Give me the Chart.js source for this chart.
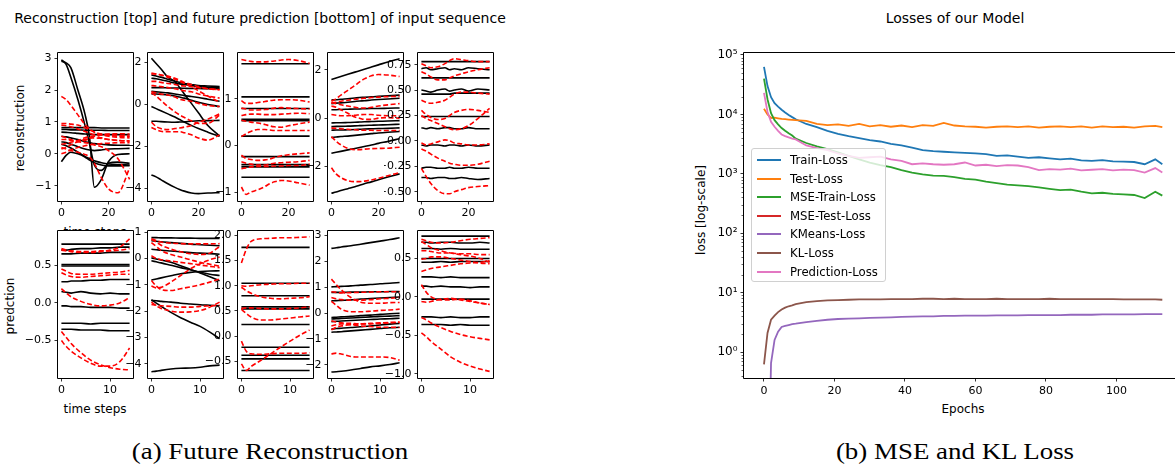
<!DOCTYPE html>
<html>
<head>
<meta charset="utf-8">
<script src="https://cdn.jsdelivr.net/npm/chart.js@4.4.1/dist/chart.umd.min.js"></script>
<style>
  body { margin: 0; background: #fff; width: 1175px; height: 466px; position: relative; overflow: hidden;
         font-family: 'DejaVu Sans', sans-serif; color: #000; }
  .txt { position: absolute; white-space: nowrap; transform: translate(-50%, -50%); }
  .rot { transform: translate(-50%, -50%) rotate(-90deg); }
  .cap { font-family: 'Liberation Serif', serif; font-size: 23px; transform: translate(-50%, -50%) scaleX(1.17); }
  canvas { position: absolute; }
  #legend { position: absolute; left: 751px; top: 148px; width: 135px; height: 134px; z-index: 5;
            background: rgba(255,255,255,0.8); border: 1px solid #d0d0d0; border-radius: 3px; box-sizing: border-box; }
  .row { position: absolute; left: 0; height: 16px; font-size: 11.7px; line-height: 16px; }
  .row span.l { position: absolute; left: 5px; top: 7px; width: 24px; height: 2px; }
  .row span.t { position: absolute; left: 38px; top: 0; white-space: nowrap; }
</style>
</head>
<body>

<div class="txt" style="left:260px;top:18px;font-size:14px">Reconstruction [top] and future prediction [bottom] of input sequence</div>
<div class="txt" style="left:955px;top:18px;font-size:14px">Losses of our Model</div>
<div class="txt rot" style="left:20px;top:128px;font-size:12px">reconstruction</div>
<div class="txt rot" style="left:10px;top:306px;font-size:12px">predction</div>
<div class="txt" style="left:95px;top:232px;font-size:12px">time steps</div>
<div class="txt" style="left:95px;top:409px;font-size:12px">time steps</div>
<div class="txt rot" style="left:701px;top:210px;font-size:12px">loss [log-scale]</div>
<div class="txt" style="left:963px;top:409px;font-size:12px">Epochs</div>
<div class="txt cap" style="left:270px;top:452px">(a) Future Reconstruction</div>
<div class="txt cap" style="left:955px;top:452px">(b) MSE and KL Loss</div>
<div id="legend"></div>

<script>
// ---- small panels: time steps ----
var T_RECON = [0, 2, 4, 7, 10, 12, 14, 17, 20, 24, 29];
var T_PRED = [0, 1, 2, 4, 6, 8, 10, 12, 14];

// top row: reconstruction (black = input, red dashed = model)
var recon1Black = [
  [0.82,0.82,0.82,0.82,0.82,0.82,0.82,0.81,0.81,0.81,0.81],
  [0.76,0.76,0.75,0.75,0.74,0.74,0.74,0.74,0.73,0.73,0.73],
  [0.68,0.67,0.66,0.64,0.62,0.61,0.60,0.60,0.60,0.60,0.60],
  [0.55,0.53,0.50,0.45,0.38,0.35,0.32,0.30,0.28,0.27,0.27],
  [0.38,0.35,0.30,0.22,0.15,0.12,0.10,0.12,0.15,0.16,0.17],
  [0.30,0.25,0.18,0.05,-0.08,-0.15,-0.22,-0.28,-0.32,-0.34,-0.35],
  [-0.25,-0.05,0.05,0.00,-0.10,-0.20,-0.28,-0.35,-0.38,-0.38,-0.37],
  [2.95,2.80,2.40,1.70,0.90,0.30,-0.35,-0.52,-0.30,-0.26,-0.30],
  [2.90,2.85,2.70,2.00,1.25,0.50,-1.05,-0.80,-0.25,-0.02,0.00]
];
var recon1Red = [
  [1.80,1.70,1.52,1.22,0.92,0.78,0.68,0.60,0.55,0.52,0.50],
  [0.95,0.95,0.93,0.90,0.82,0.75,0.68,0.62,0.58,0.55,0.55],
  [0.90,0.88,0.85,0.78,0.70,0.65,0.60,0.60,0.62,0.63,0.62],
  [0.55,0.50,0.45,0.40,0.42,0.48,0.55,0.60,0.60,0.58,0.55],
  [0.30,0.32,0.36,0.42,0.50,0.55,0.55,0.50,0.45,0.42,0.40],
  [0.15,0.20,0.28,0.38,0.45,0.50,0.50,0.48,0.45,0.42,0.40],
  [0.00,0.05,0.12,0.20,0.25,0.28,0.30,0.32,0.33,0.35,0.35],
  [0.20,0.15,0.10,0.05,-0.02,-0.10,-0.30,-0.75,-1.10,-1.22,-0.45],
  [0.45,0.45,0.42,0.38,0.35,0.32,0.28,0.22,0.10,-0.15,-0.80]
];
var recon2Black = [
  [2.20,1.95,1.70,1.30,1.10,0.80,0.50,0.05,-0.40,-1.00,-1.50],
  [-0.10,-0.20,-0.30,-0.45,-0.60,-0.72,-0.84,-1.00,-1.15,-1.32,-1.52],
  [-0.80,-0.80,-0.82,-0.84,-0.85,-0.84,-0.83,-0.80,-0.78,-0.77,-0.76],
  [1.40,1.35,1.30,1.20,1.10,1.05,1.00,0.95,0.90,0.88,0.85],
  [1.25,1.22,1.18,1.10,1.02,0.98,0.95,0.90,0.85,0.82,0.80],
  [0.80,0.80,0.80,0.79,0.78,0.78,0.77,0.76,0.76,0.75,0.75],
  [0.62,0.60,0.58,0.55,0.50,0.46,0.42,0.38,0.33,0.25,0.15],
  [0.50,0.50,0.48,0.45,0.40,0.35,0.30,0.20,0.10,0.00,-0.10],
  [-3.36,-3.45,-3.58,-3.78,-3.95,-4.05,-4.13,-4.22,-4.25,-4.22,-4.20]
];
var recon2Red = [
  [1.50,1.45,1.40,1.30,1.20,1.10,1.00,0.85,0.65,0.40,0.10],
  [1.45,1.45,1.40,1.35,1.25,1.15,1.05,0.95,0.85,0.75,0.70],
  [1.10,1.10,1.05,1.00,0.95,0.90,0.88,0.85,0.80,0.75,0.70],
  [0.90,0.88,0.85,0.80,0.75,0.70,0.65,0.60,0.50,0.40,0.30],
  [0.55,0.40,0.20,-0.10,-0.35,-0.50,-0.62,-0.78,-0.90,-0.90,-0.50],
  [-0.85,-1.05,-1.15,-1.20,-1.15,-1.12,-1.08,-1.00,-0.85,-0.70,-0.45],
  [-1.10,-1.20,-1.28,-1.30,-1.30,-1.30,-1.35,-1.45,-1.60,-1.70,-1.45],
  [0.60,0.55,0.50,0.45,0.35,0.25,0.20,0.15,0.05,-0.05,-0.10]
];
var recon3Black = [
  [1.75,1.75,1.75,1.75,1.75,1.75,1.75,1.75,1.75,1.75,1.75],
  [1.04,1.04,1.04,1.04,1.04,1.04,1.04,1.04,1.04,1.04,1.04],
  [0.79,0.79,0.79,0.79,0.79,0.79,0.79,0.79,0.79,0.79,0.79],
  [0.56,0.56,0.56,0.56,0.56,0.56,0.56,0.56,0.56,0.56,0.56],
  [0.53,0.53,0.53,0.53,0.53,0.53,0.53,0.53,0.53,0.53,0.53],
  [0.20,0.20,0.20,0.20,0.20,0.20,0.20,0.20,0.20,0.20,0.20],
  [-0.24,-0.24,-0.24,-0.24,-0.24,-0.24,-0.24,-0.24,-0.24,-0.24,-0.24],
  [-0.41,-0.41,-0.41,-0.41,-0.41,-0.41,-0.41,-0.41,-0.41,-0.41,-0.41],
  [-0.46,-0.46,-0.46,-0.46,-0.46,-0.46,-0.46,-0.46,-0.46,-0.46,-0.46],
  [-0.68,-0.68,-0.68,-0.68,-0.68,-0.68,-0.68,-0.68,-0.68,-0.68,-0.68]
];
var recon3Red = [
  [1.84,1.82,1.80,1.79,1.79,1.80,1.81,1.83,1.84,1.82,1.76],
  [0.96,0.90,0.90,0.92,0.94,0.96,0.97,0.98,0.98,0.97,0.93],
  [0.80,0.78,0.76,0.76,0.77,0.78,0.80,0.81,0.80,0.79,0.78],
  [0.64,0.66,0.67,0.67,0.66,0.66,0.66,0.67,0.68,0.69,0.68],
  [0.54,0.52,0.50,0.48,0.45,0.42,0.40,0.39,0.42,0.46,0.50],
  [0.19,0.25,0.30,0.34,0.34,0.33,0.32,0.32,0.32,0.32,0.32],
  [-0.21,-0.28,-0.30,-0.32,-0.31,-0.29,-0.26,-0.22,-0.20,-0.18,-0.16],
  [-0.35,-0.38,-0.40,-0.42,-0.42,-0.40,-0.38,-0.37,-0.36,-0.35,-0.32],
  [-0.50,-0.48,-0.46,-0.45,-0.45,-0.45,-0.44,-0.44,-0.43,-0.43,-0.40],
  [-0.89,-1.05,-1.00,-0.95,-0.88,-0.82,-0.78,-0.75,-0.76,-0.80,-0.85]
];
var recon4Black = [
  [1.60,1.66,1.72,1.81,1.90,1.96,2.02,2.11,2.20,2.32,2.45],
  [0.75,0.76,0.78,0.80,0.83,0.85,0.86,0.88,0.90,0.92,0.95],
  [0.60,0.62,0.63,0.66,0.69,0.71,0.72,0.75,0.77,0.79,0.82],
  [0.35,0.35,0.36,0.37,0.38,0.38,0.39,0.40,0.40,0.41,0.42],
  [-0.20,-0.19,-0.19,-0.18,-0.17,-0.16,-0.15,-0.14,-0.13,-0.12,-0.10],
  [-0.35,-0.34,-0.34,-0.33,-0.32,-0.31,-0.30,-0.29,-0.28,-0.27,-0.25],
  [-0.50,-0.49,-0.49,-0.48,-0.47,-0.46,-0.45,-0.44,-0.43,-0.42,-0.40],
  [-0.80,-0.78,-0.76,-0.74,-0.71,-0.69,-0.67,-0.64,-0.61,-0.58,-0.55],
  [-1.45,-1.41,-1.37,-1.31,-1.25,-1.21,-1.17,-1.11,-1.04,-0.96,-0.85],
  [-3.10,-3.05,-2.99,-2.91,-2.83,-2.77,-2.71,-2.63,-2.54,-2.43,-2.30]
];
var recon4Red = [
  [0.70,0.80,0.95,1.15,1.35,1.50,1.62,1.75,1.80,1.78,1.72],
  [0.62,0.66,0.70,0.74,0.78,0.80,0.82,0.85,0.87,0.89,0.90],
  [0.50,0.45,0.35,0.20,0.05,0.00,-0.05,-0.05,0.00,0.02,0.00],
  [0.65,0.60,0.55,0.50,0.45,0.42,0.42,0.45,0.50,0.55,0.60],
  [0.15,0.12,0.10,0.10,0.12,0.14,0.15,0.15,0.12,0.10,0.10],
  [-0.41,-0.42,-0.44,-0.46,-0.48,-0.49,-0.50,-0.50,-0.51,-0.51,-0.51],
  [-0.76,-0.95,-1.10,-1.25,-1.30,-1.30,-1.28,-1.26,-1.25,-1.24,-1.20],
  [-2.05,-2.30,-2.45,-2.58,-2.62,-2.62,-2.60,-2.55,-2.48,-2.38,-2.25]
];
var recon5Black = [
  [0.78,0.78,0.78,0.78,0.78,0.78,0.78,0.78,0.78,0.78,0.78],
  [0.71,0.72,0.70,0.71,0.72,0.70,0.71,0.70,0.72,0.71,0.70],
  [0.62,0.62,0.62,0.62,0.62,0.62,0.62,0.62,0.62,0.62,0.62],
  [0.50,0.49,0.48,0.50,0.51,0.49,0.50,0.51,0.49,0.51,0.50],
  [0.46,0.46,0.46,0.46,0.46,0.46,0.47,0.47,0.47,0.47,0.47],
  [0.24,0.24,0.24,0.24,0.24,0.24,0.24,0.24,0.24,0.24,0.24],
  [0.13,0.12,0.13,0.12,0.13,0.13,0.12,0.12,0.13,0.12,0.12],
  [-0.04,-0.05,-0.04,-0.04,-0.05,-0.04,-0.04,-0.05,-0.04,-0.05,-0.04],
  [-0.27,-0.26,-0.26,-0.27,-0.27,-0.26,-0.27,-0.27,-0.26,-0.27,-0.27],
  [-0.36,-0.36,-0.37,-0.36,-0.36,-0.37,-0.37,-0.36,-0.37,-0.38,-0.37]
];
var recon5Red = [
  [0.76,0.74,0.72,0.73,0.76,0.79,0.81,0.80,0.79,0.78,0.78],
  [0.68,0.66,0.63,0.60,0.60,0.62,0.64,0.66,0.68,0.70,0.72],
  [0.40,0.38,0.37,0.38,0.40,0.43,0.46,0.48,0.48,0.47,0.46],
  [0.30,0.26,0.23,0.21,0.22,0.25,0.28,0.30,0.31,0.30,0.28],
  [0.25,0.22,0.20,0.17,0.14,0.12,0.11,0.12,0.15,0.22,0.32],
  [-0.02,-0.04,-0.03,-0.01,0.01,0.00,-0.02,-0.03,-0.04,-0.04,-0.03],
  [-0.08,-0.10,-0.13,-0.17,-0.20,-0.22,-0.23,-0.24,-0.24,-0.23,-0.20],
  [-0.27,-0.35,-0.42,-0.49,-0.52,-0.52,-0.50,-0.48,-0.46,-0.45,-0.44]
];

// bottom row: future prediction
var pred1Black = [
  [0.78,0.78,0.78,0.78,0.78,0.78,0.78,0.78,0.78],
  [0.70,0.70,0.71,0.72,0.72,0.73,0.73,0.74,0.74],
  [0.65,0.65,0.65,0.66,0.66,0.66,0.67,0.67,0.67],
  [0.51,0.51,0.51,0.51,0.51,0.51,0.51,0.51,0.51],
  [0.49,0.49,0.49,0.49,0.49,0.49,0.49,0.49,0.49],
  [0.28,0.28,0.29,0.29,0.30,0.30,0.31,0.31,0.31],
  [0.15,0.14,0.13,0.15,0.13,0.12,0.13,0.12,0.12],
  [-0.04,-0.04,-0.05,-0.05,-0.06,-0.06,-0.06,-0.07,-0.07],
  [-0.27,-0.27,-0.27,-0.27,-0.28,-0.27,-0.27,-0.27,-0.27],
  [-0.35,-0.35,-0.35,-0.36,-0.36,-0.36,-0.37,-0.37,-0.37]
];
var pred1Red = [
  [0.72,0.70,0.68,0.67,0.67,0.68,0.70,0.74,0.85],
  [0.70,0.69,0.69,0.68,0.68,0.69,0.69,0.70,0.72],
  [0.45,0.42,0.39,0.38,0.38,0.39,0.40,0.41,0.43],
  [0.40,0.37,0.35,0.34,0.35,0.36,0.37,0.38,0.38],
  [0.19,0.13,0.08,0.02,-0.02,-0.04,-0.03,0.00,0.07],
  [-0.38,-0.46,-0.54,-0.66,-0.76,-0.82,-0.86,-0.88,-0.89],
  [-0.50,-0.58,-0.64,-0.73,-0.80,-0.84,-0.84,-0.78,-0.60]
];
var pred2Black = [
  [0.79,0.79,0.78,0.78,0.77,0.77,0.76,0.76,0.76],
  [0.67,0.65,0.63,0.60,0.57,0.54,0.52,0.50,0.48],
  [0.35,0.33,0.31,0.28,0.25,0.22,0.20,0.18,0.16],
  [0.02,-0.02,-0.06,-0.15,-0.28,-0.42,-0.55,-0.70,-0.85],
  [-0.09,-0.13,-0.17,-0.26,-0.35,-0.43,-0.52,-0.60,-0.65],
  [-0.82,-0.78,-0.74,-0.66,-0.58,-0.53,-0.50,-0.48,-0.47],
  [-1.60,-1.61,-1.63,-1.66,-1.70,-1.73,-1.76,-1.78,-1.80],
  [-1.57,-1.70,-1.82,-2.05,-2.25,-2.42,-2.58,-2.80,-3.05],
  [-4.30,-4.28,-4.25,-4.20,-4.17,-4.16,-4.13,-4.08,-4.05]
];
var pred2Red = [
  [0.75,0.68,0.62,0.58,0.56,0.55,0.55,0.55,0.56],
  [0.72,0.62,0.50,0.35,0.25,0.18,0.15,0.20,0.45],
  [0.60,0.45,0.30,0.15,0.05,-0.05,-0.15,-0.22,-0.30],
  [0.10,0.00,-0.05,-0.10,-0.15,-0.20,-0.25,-0.30,-0.35],
  [-0.84,-1.05,-1.18,-1.22,-1.15,-1.08,-1.00,-0.90,-0.78],
  [-1.05,-1.12,-1.10,-0.90,-0.65,-0.40,-0.20,-0.05,0.05],
  [-1.66,-1.80,-1.90,-2.00,-2.04,-2.03,-1.98,-1.85,-1.66],
  [-1.75,-1.78,-1.80,-1.82,-1.85,-1.85,-1.82,-1.80,-1.78]
];
var pred3Black = [
  [1.76,1.76,1.76,1.76,1.76,1.76,1.76,1.76,1.76],
  [1.05,1.05,1.05,1.05,1.05,1.05,1.05,1.05,1.05],
  [0.80,0.80,0.80,0.80,0.80,0.80,0.80,0.80,0.80],
  [0.58,0.58,0.58,0.58,0.58,0.58,0.58,0.58,0.58],
  [0.54,0.54,0.54,0.54,0.54,0.54,0.54,0.54,0.54],
  [0.23,0.23,0.23,0.23,0.23,0.23,0.23,0.23,0.23],
  [-0.22,-0.22,-0.22,-0.22,-0.22,-0.22,-0.22,-0.22,-0.22],
  [-0.38,-0.38,-0.38,-0.38,-0.38,-0.38,-0.38,-0.38,-0.38],
  [-0.45,-0.45,-0.45,-0.45,-0.45,-0.45,-0.45,-0.45,-0.45],
  [-0.68,-0.68,-0.68,-0.68,-0.68,-0.68,-0.68,-0.68,-0.68]
];
var pred3Red = [
  [1.45,1.72,1.88,1.93,1.94,1.95,1.95,1.96,1.97],
  [1.00,0.99,1.00,1.02,1.03,1.04,1.04,1.05,1.05],
  [0.97,0.90,0.85,0.78,0.75,0.74,0.75,0.76,0.78],
  [0.55,0.56,0.56,0.55,0.54,0.54,0.55,0.56,0.58],
  [0.53,0.45,0.38,0.32,0.32,0.34,0.36,0.38,0.40],
  [-0.10,-0.30,-0.35,-0.36,-0.35,-0.34,-0.34,-0.34,-0.33],
  [-0.55,-0.68,-0.60,-0.48,-0.35,-0.22,-0.10,0.02,0.12]
];
var pred4Black = [
  [2.50,2.52,2.55,2.60,2.66,2.72,2.78,2.84,2.91],
  [1.01,1.02,1.03,1.05,1.08,1.10,1.13,1.15,1.18],
  [0.80,0.80,0.80,0.81,0.81,0.82,0.82,0.83,0.83],
  [0.47,0.48,0.49,0.51,0.54,0.56,0.58,0.60,0.62],
  [-0.17,-0.16,-0.15,-0.13,-0.10,-0.08,-0.05,-0.03,-0.01],
  [-0.23,-0.22,-0.21,-0.19,-0.17,-0.15,-0.13,-0.12,-0.10],
  [-0.33,-0.32,-0.31,-0.29,-0.27,-0.25,-0.23,-0.22,-0.20],
  [-0.62,-0.60,-0.59,-0.56,-0.53,-0.50,-0.46,-0.43,-0.40],
  [-0.74,-0.73,-0.72,-0.69,-0.66,-0.63,-0.60,-0.57,-0.55],
  [-2.28,-2.27,-2.25,-2.20,-2.14,-2.08,-2.04,-1.99,-1.92]
];
var pred4Red = [
  [1.31,1.10,0.90,0.60,0.42,0.38,0.38,0.40,0.41],
  [0.82,0.80,0.78,0.79,0.80,0.81,0.82,0.82,0.82],
  [0.60,0.55,0.52,0.50,0.50,0.52,0.55,0.57,0.60],
  [0.45,0.30,0.15,0.05,0.05,0.07,0.10,0.12,0.15],
  [-0.30,-0.35,-0.38,-0.40,-0.42,-0.42,-0.40,-0.38,-0.36],
  [-0.50,-0.45,-0.42,-0.45,-0.50,-0.52,-0.55,-0.55,-0.56],
  [-0.65,-0.55,-0.50,-0.45,-0.42,-0.40,-0.38,-0.36,-0.35],
  [-1.58,-1.55,-1.58,-1.68,-1.70,-1.70,-1.70,-1.72,-1.82]
];
var pred5Black = [
  [0.79,0.79,0.79,0.79,0.79,0.79,0.79,0.79,0.79],
  [0.71,0.71,0.70,0.71,0.71,0.70,0.70,0.71,0.70],
  [0.63,0.63,0.63,0.62,0.63,0.62,0.62,0.62,0.62],
  [0.50,0.50,0.50,0.50,0.50,0.50,0.50,0.50,0.50],
  [0.45,0.45,0.45,0.46,0.45,0.46,0.46,0.46,0.46],
  [0.26,0.26,0.26,0.25,0.26,0.25,0.25,0.25,0.25],
  [0.14,0.14,0.13,0.14,0.13,0.13,0.12,0.13,0.13],
  [-0.03,-0.03,-0.03,-0.03,-0.03,-0.03,-0.03,-0.03,-0.03],
  [-0.26,-0.26,-0.26,-0.27,-0.26,-0.27,-0.27,-0.26,-0.26],
  [-0.36,-0.36,-0.36,-0.36,-0.37,-0.36,-0.37,-0.37,-0.37]
];
var pred5Red = [
  [0.75,0.73,0.71,0.70,0.71,0.73,0.75,0.76,0.77],
  [0.72,0.68,0.64,0.60,0.57,0.55,0.53,0.50,0.45],
  [0.60,0.60,0.59,0.57,0.57,0.56,0.56,0.55,0.55],
  [0.49,0.50,0.52,0.52,0.50,0.48,0.46,0.44,0.43],
  [0.33,0.35,0.37,0.39,0.41,0.43,0.44,0.45,0.47],
  [0.16,0.06,0.00,-0.04,-0.04,-0.03,-0.05,-0.08,-0.10],
  [-0.06,-0.07,-0.06,-0.03,-0.02,-0.04,-0.06,-0.08,-0.10],
  [-0.27,-0.30,-0.34,-0.40,-0.45,-0.49,-0.52,-0.54,-0.56],
  [-0.47,-0.52,-0.58,-0.68,-0.78,-0.85,-0.90,-0.94,-0.97]
];

// ---- losses ----
var EPOCHS = [0,1,2,3,4,5,6,7,8,9,12,15,18,21,24,27,30,33,36,39,42,45,48,51,54,57,60,63,66,69,72,75,78,81,84,87,90,93,96,99,102,105,108,111,113];
var trainLoss = [63000,30000,19500,15500,13500,12000,10800,9800,9000,8300,6900,6100,5300,4700,4300,4000,3700,3500,3200,3000,2750,2500,2400,2350,2300,2250,2200,2150,2000,2050,1950,1850,1900,1820,1750,1800,1680,1650,1700,1620,1600,1580,1450,1750,1450];
var testLoss = [12400,10000,8700,8800,8600,8400,8300,8200,8100,8000,7800,6900,6600,6800,6400,6900,6300,6600,6200,6500,6100,6600,6400,7200,6500,6300,6200,6000,6200,6300,6100,6300,6000,6200,6300,6100,6300,6000,6300,6100,6200,6000,6300,6400,6100];
var mseTrainLoss = [40000,18000,10500,8000,6800,5900,5300,4800,4400,3900,3300,2900,2600,2300,2000,1750,1550,1400,1300,1150,1050,980,930,920,880,820,800,740,700,660,640,620,590,560,530,540,500,470,480,460,450,440,390,500,430];
var mseTestLoss = [];
var kmeansLoss = [0.001,0.001,0.65,1.6,2.2,2.65,2.75,2.85,2.95,3.0,3.2,3.35,3.5,3.6,3.65,3.7,3.75,3.8,3.85,3.9,3.95,4.0,4.0,4.05,4.05,4.1,4.1,4.1,4.15,4.15,4.15,4.2,4.2,4.2,4.2,4.25,4.25,4.25,4.3,4.3,4.3,4.3,4.35,4.35,4.35];
var klLoss = [0.62,2.1,3.5,4.1,4.7,5.2,5.6,5.9,6.1,6.4,6.9,7.2,7.4,7.5,7.6,7.7,7.7,7.7,7.8,7.8,7.8,7.9,7.9,7.8,7.9,7.8,7.8,7.8,7.9,7.8,7.8,7.8,7.8,7.9,7.8,7.8,7.8,7.8,7.8,7.8,7.7,7.7,7.7,7.7,7.6];
var predictionLoss = [23000,11000,7500,6200,5300,4600,4300,4100,3900,3800,3000,2700,2500,2200,2000,1850,1900,1950,1750,1650,1450,1500,1450,1420,1450,1550,1380,1420,1350,1400,1380,1300,1150,1200,1180,1220,1140,1170,1200,1140,1180,1150,1050,1250,1050];
var LOSS_LABELS = ['Train-Loss','Test-Loss','MSE-Train-Loss','MSE-Test-Loss','KMeans-Loss','KL-Loss','Prediction-Loss'];
var LOSS_COLORS = ['#1f77b4','#ff7f0e','#2ca02c','#d62728','#9467bd','#8c564b','#e377c2'];

var TICK_FONT = {family: 'DejaVu Sans', size: 11};

function fmt(v, dec) {
    return (v < 0 ? '\u2212' : '') + Math.abs(v).toFixed(dec);
}

// white axes background + spines
var framePlugin = {
    id: 'frame',
    beforeDraw: function(chart) {
        var a = chart.chartArea, ctx = chart.ctx;
        ctx.save();
        ctx.fillStyle = '#fff';
        ctx.fillRect(a.left, a.top, a.right - a.left, a.bottom - a.top);
        ctx.restore();
    },
    afterDraw: function(chart, args, opts) {
        var a = chart.chartArea, ctx = chart.ctx;
        var l = a.left - 0.5, t = a.top - 0.5, b = a.bottom + 0.5;
        var r = opts.open ? a.right + 2 : a.right + 0.5;
        ctx.save();
        ctx.strokeStyle = '#000';
        ctx.lineWidth = 1;
        ctx.beginPath();
        ctx.moveTo(r, t); ctx.lineTo(l, t); ctx.lineTo(l, b); ctx.lineTo(r, b);
        if (!opts.open) ctx.lineTo(r, t);
        ctx.stroke();
        ctx.restore();
    }
};

function makeCanvas(left, top, w, h) {
    var c = document.createElement('canvas');
    c.width = w; c.height = h;
    c.style.left = left + 'px'; c.style.top = top + 'px';
    c.style.width = w + 'px'; c.style.height = h + 'px';
    document.body.appendChild(c);
    return c;
}

function panel(px, py, pw, ph, times, black, red, xr, xTicks, yr, yTicks, dec) {
    var padL = 34, padT = 14, padR = 6, padB = 22;
    var c = makeCanvas(px - padL, py - padT, pw + padL + padR, ph + padT + padB);
    var ds = [];
    black.forEach(function(s) {
        ds.push({data: times.map(function(t, i) { return {x: t, y: s[i]}; }),
                 borderColor: '#000', borderWidth: 1.6, borderDash: []});
    });
    red.forEach(function(s) {
        ds.push({data: times.map(function(t, i) { return {x: t, y: s[i]}; }),
                 borderColor: '#ff0000', borderWidth: 1.6, borderDash: [5, 2.5]});
    });
    ds.forEach(function(d, i) { d.order = ds.length - i; d.cubicInterpolationMode = 'monotone'; });

    new Chart(c, {
        type: 'line',
        data: {datasets: ds},
        plugins: [framePlugin],
        options: {
            responsive: false,
            animation: false,
            layout: {padding: {top: padT, right: padR, left: 0, bottom: 0}},
            elements: {point: {radius: 0}},
            plugins: {legend: {display: false}, tooltip: {enabled: false}, frame: {open: false}},
            scales: {
                x: {
                    type: 'linear', min: xr[0], max: xr[1],
                    afterFit: function(s) { s.height = padB; },
                    afterBuildTicks: function(s) { s.ticks = xTicks.map(function(v) { return {value: v}; }); },
                    grid: {drawOnChartArea: false, tickLength: 3.5, color: '#000', lineWidth: 0.8},
                    border: {display: false},
                    ticks: {font: TICK_FONT, color: '#000', padding: 2, maxRotation: 0, autoSkip: false,
                            callback: function(v) { return fmt(v, 0); }}
                },
                y: {
                    type: 'linear', min: yr[0], max: yr[1],
                    afterFit: function(s) { s.width = padL; },
                    afterBuildTicks: function(s) { s.ticks = yTicks.map(function(v) { return {value: v}; }); },
                    grid: {drawOnChartArea: false, tickLength: 3.5, color: '#000', lineWidth: 0.8},
                    border: {display: false},
                    ticks: {font: TICK_FONT, color: '#000', padding: 3, autoSkip: false,
                            callback: function(v) { return fmt(v, dec); }}
                }
            }
        }
    });
}

var XR_RECON = [-1.45, 30.45], XR_PRED = [-0.7, 14.7];
var topY = 53, topH = 148, botY = 231, botH = 147, colW = 75;
function colX(i) { return 58 + 90 * i; }

panel(colX(0), topY, colW, topH, T_RECON, recon1Black, recon1Red, XR_RECON, [0, 20], [-1.48, 3.16], [-1, 0, 1, 2, 3], 0);
panel(colX(1), topY, colW, topH, T_RECON, recon2Black, recon2Red, XR_RECON, [0, 20], [-4.6, 2.45], [-4, -2, 0, 2], 0);
panel(colX(2), topY, colW, topH, T_RECON, recon3Black, recon3Red, XR_RECON, [0, 20], [-1.19, 1.98], [-1, 0, 1], 0);
panel(colX(3), topY, colW, topH, T_RECON, recon4Black, recon4Red, XR_RECON, [0, 20], [-3.42, 2.69], [-2, 0, 2], 0);
panel(colX(4), topY, colW, topH, T_RECON, recon5Black, recon5Red, XR_RECON, [0, 20], [-0.592, 0.865], [-0.5, -0.25, 0, 0.25, 0.5, 0.75], 2);

panel(colX(0), botY, colW, botH, T_PRED, pred1Black, pred1Red, XR_PRED, [0, 10], [-0.997, 0.954], [-0.5, 0, 0.5], 1);
panel(colX(1), botY, colW, botH, T_PRED, pred2Black, pred2Red, XR_PRED, [0, 10], [-4.54, 1.04], [-4, -3, -2, -1, 0, 1], 0);
panel(colX(2), botY, colW, botH, T_PRED, pred3Black, pred3Red, XR_PRED, [0, 10], [-0.83, 2.085], [-0.5, 0, 0.5, 1, 1.5, 2], 1);
panel(colX(3), botY, colW, botH, T_PRED, pred4Black, pred4Red, XR_PRED, [0, 10], [-2.51, 3.17], [-2, -1, 0, 1, 2, 3], 0);
panel(colX(4), botY, colW, botH, T_PRED, pred5Black, pred5Red, XR_PRED, [0, 10], [-1.056, 0.857], [-1, -0.5, 0, 0.5], 1);

// ---- loss chart ----
var SUP = {'0': '\u2070', '1': '\u00b9', '2': '\u00b2', '3': '\u00b3', '4': '\u2074', '5': '\u2075'};

var minorTicks = {
    id: 'minorTicks',
    afterDraw: function(chart) {
        var y = chart.scales.y, ctx = chart.ctx, left = chart.chartArea.left;
        ctx.save();
        ctx.strokeStyle = '#000';
        ctx.lineWidth = 0.6;
        ctx.beginPath();
        for (var n = -1; n <= 5; n++) {
            for (var k = 2; k <= 9; k++) {
                var v = k * Math.pow(10, n);
                if (v < y.min || v > y.max) continue;
                var p = Math.round(y.getPixelForValue(v)) + 0.5;
                ctx.moveTo(left - 2.5, p); ctx.lineTo(left, p);
            }
        }
        ctx.stroke();
        ctx.restore();
    }
};

var lossSeries = [trainLoss, testLoss, mseTrainLoss, mseTestLoss, kmeansLoss, klLoss, predictionLoss];
var lossCanvas = makeCanvas(700, 39, 475, 368);
var lossSets = lossSeries.map(function(vals, i) {
    return {
        label: LOSS_LABELS[i],
        data: vals.map(function(v, j) { return {x: EPOCHS[j], y: v}; }),
        borderColor: LOSS_COLORS[i],
        borderWidth: 1.8,
        tension: 0,
        order: lossSeries.length - i
    };
});

new Chart(lossCanvas, {
    type: 'line',
    data: {datasets: lossSets},
    plugins: [framePlugin, minorTicks],
    options: {
        responsive: false,
        animation: false,
        layout: {padding: {top: 14, right: 0, left: 0, bottom: 0}},
        elements: {point: {radius: 0}},
        plugins: {legend: {display: false}, tooltip: {enabled: false}, frame: {open: true}},
        scales: {
            x: {
                type: 'linear', min: -5.67, max: 116.6,
                afterFit: function(s) { s.height = 29; },
                afterBuildTicks: function(s) { s.ticks = [0, 20, 40, 60, 80, 100].map(function(v) { return {value: v}; }); },
                grid: {drawOnChartArea: false, tickLength: 3.5, color: '#000', lineWidth: 0.8},
                border: {display: false},
                ticks: {font: TICK_FONT, color: '#000', padding: 3, maxRotation: 0, autoSkip: false,
                        callback: function(v) { return String(v); }}
            },
            y: {
                type: 'logarithmic', min: 0.366, max: 108000,
                afterFit: function(s) { s.width = 44; },
                afterBuildTicks: function(s) { s.ticks = [1, 10, 100, 1000, 10000, 100000].map(function(v) { return {value: v}; }); },
                grid: {drawOnChartArea: false, tickLength: 3.5, color: '#000', lineWidth: 0.8},
                border: {display: false},
                ticks: {font: {family: 'DejaVu Sans', size: 12}, color: '#000', padding: 3, autoSkip: false,
                        callback: function(v) { return '10' + SUP[String(Math.round(Math.log10(v)))]; }}
            }
        }
    }
});

// legend box inside the axes
var legend = document.getElementById('legend');
LOSS_LABELS.forEach(function(name, i) {
    var row = document.createElement('div');
    row.className = 'row';
    row.style.top = (3 + 18.6 * i) + 'px';
    row.innerHTML = '<span class="l" style="background:' + LOSS_COLORS[i] + '"></span><span class="t">' + name + '</span>';
    legend.appendChild(row);
});
</script>
</body>
</html>
